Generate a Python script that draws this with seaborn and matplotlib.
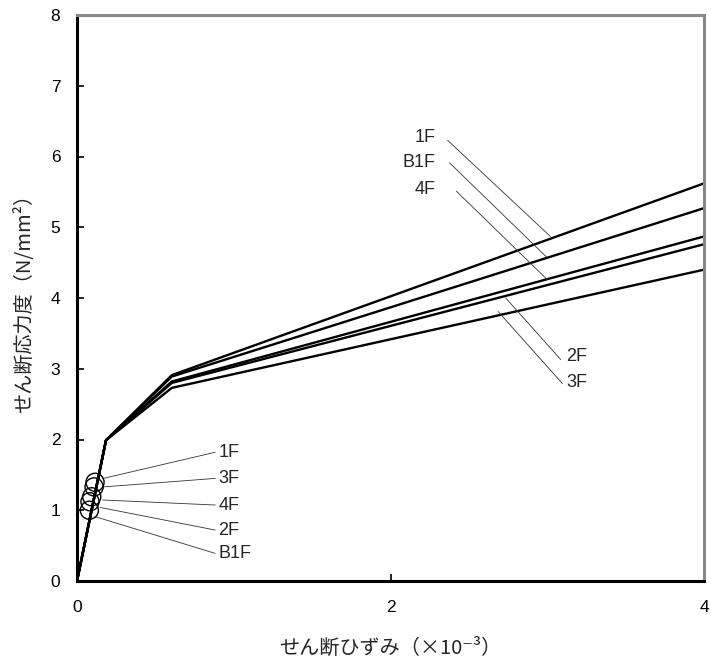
import numpy as np
import pandas as pd
import matplotlib
matplotlib.use("Agg")
import matplotlib.pyplot as plt
import seaborn as sns

# ---- data ----
floors = ["1F", "B1F", "4F", "2F", "3F"]
strain_pts = [0.0, 0.185, 0.605, 4.0]
stress_knee1 = [1.99, 1.99, 1.99, 1.99, 1.99]
stress_knee2 = [2.91, 2.89, 2.82, 2.80, 2.73]
stress_end = [5.62, 5.27, 4.87, 4.76, 4.40]

crack_floors = ["1F", "3F", "4F", "2F", "B1F"]
crack_strain = [0.115, 0.109, 0.094, 0.083, 0.079]
crack_stress = [1.395, 1.33, 1.19, 1.12, 1.00]

# lower-left labels (leader start, leader end / text position)
low_lab = ["1F", "3F", "4F", "2F", "B1F"]
low_x0 = [0.168, 0.168, 0.164, 0.147, 0.115]
low_y0 = [1.45, 1.33, 1.145, 1.04, 0.91]
low_x1 = [0.882, 0.882, 0.882, 0.882, 0.882]
low_y1 = [1.82, 1.45, 1.074, 0.72, 0.39]

# upper labels
up_lab = ["1F", "B1F", "4F", "2F", "3F"]
up_tx = [2.29, 2.29, 2.29, 3.12, 3.12]
up_ty = [6.27, 5.91, 5.53, 3.18, 2.81]
up_ha = ["right", "right", "right", "left", "left"]
up_x0 = [2.364, 2.377, 2.42, 3.086, 3.097]
up_y0 = [6.23, 5.91, 5.51, 3.13, 2.79]
up_x1 = [3.02, 2.995, 3.0, 2.735, 2.686]
up_y1 = [4.87, 4.58, 4.26, 4.00, 3.81]

rows = []
for f, k1, k2, e in zip(floors, stress_knee1, stress_knee2, stress_end):
    for sx, sy in zip(strain_pts, [0.0, k1, k2, e]):
        rows.append({"floor": f, "strain": sx, "stress": sy})
df = pd.DataFrame(rows)
crack = pd.DataFrame({"floor": crack_floors, "strain": crack_strain, "stress": crack_stress})

sns.set_theme(style="white")
JP = ["Noto Sans CJK JP", "DejaVu Sans"]
LAT = ["Liberation Sans", "Noto Sans CJK JP", "DejaVu Sans"]
plt.rcParams["font.family"] = LAT

fig = plt.figure(figsize=(7.11, 6.68), dpi=100)
ax = fig.add_axes([77 / 711, 1 - 581 / 668, (704 - 77) / 711, (581 - 15) / 668])

sns.lineplot(data=df, x="strain", y="stress", units="floor", estimator=None,
             sort=False, color="black", linewidth=1.7, ax=ax, legend=False)
sns.scatterplot(data=crack, x="strain", y="stress", marker="o", s=170,
                facecolors="none", edgecolor="black", linewidth=1.0, ax=ax,
                legend=False, zorder=3)

for lab, x0, y0, x1, y1 in zip(low_lab, low_x0, low_y0, low_x1, low_y1):
    ax.plot([x0, x1], [y0, y1], color="#333333", linewidth=0.6)
    ax.text(x1 + 0.02, y1, lab, ha="left", va="center", fontsize=13)

for lab, tx, ty, ha, x0, y0, x1, y1 in zip(up_lab, up_tx, up_ty, up_ha, up_x0, up_y0, up_x1, up_y1):
    ax.plot([x0, x1], [y0, y1], color="#333333", linewidth=0.6)
    ax.text(tx, ty, lab, ha=ha, va="center", fontsize=13)

ax.set_xlim(0, 4)
ax.set_ylim(0, 8)
ax.set_xticks([0, 2, 4])
ax.set_yticks(range(0, 9))
ax.tick_params(direction="in", length=5, width=1.2, labelsize=12.5,
               left=True, bottom=True, colors="black")
ax.tick_params(axis="x", pad=14)
ax.tick_params(axis="y", pad=12)
for s in ["left", "bottom"]:
    ax.spines[s].set_color("black")
    ax.spines[s].set_linewidth(2.2)
for s in ["top", "right"]:
    ax.spines[s].set_color("#888888")
    ax.spines[s].set_linewidth(2.2)

ax.set_xlabel("せん断ひずみ（×10⁻³）", fontsize=14.5, labelpad=16, family=JP)
ax.set_ylabel("せん断応力度（N/mm²）", fontsize=14.5, labelpad=11, family=JP)

fig.savefig("out.png", dpi=100)
